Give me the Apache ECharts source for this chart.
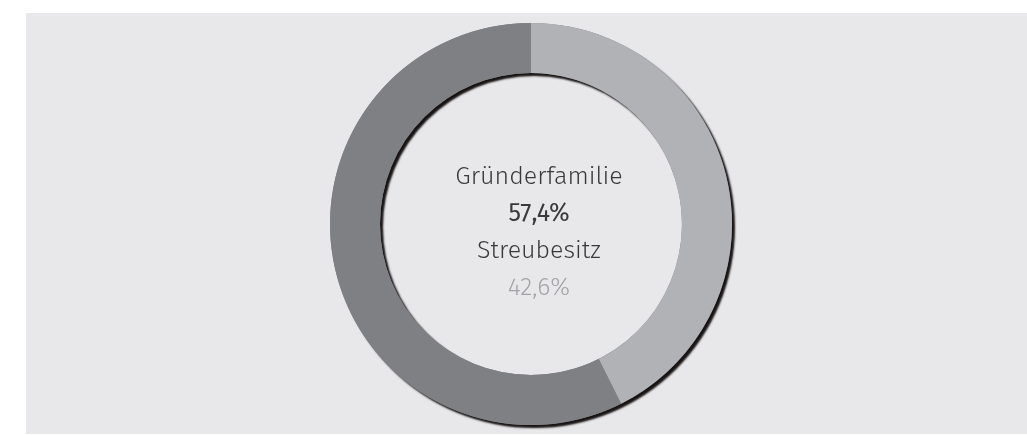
<!DOCTYPE html>
<html>
<head>
<meta charset="utf-8">
<script src="https://cdn.jsdelivr.net/npm/echarts@6/dist/echarts.min.js"></script>
<style>
  html, body { margin: 0; padding: 0; background: #ffffff; }
  #chart { width: 1027px; height: 435px; }
</style>
</head>
<body>
<div id="chart"></div>
<script>
    // owners, drawn clockwise from 12 o'clock
    const names = ['Streubesitz', 'Gründerfamilie'];
    const shares = [42.6, 57.4];
    const colors = ['#b1b2b5', '#7f8083'];
    const labelColors = ['#a3a4a7', '#3a3a3c'];

    function fmt(v) {
        return v.toFixed(1).replace('.', ',') + '%';
    }

    const chart = echarts.init(document.getElementById('chart'));
    const cx = 531;
    const cy = 224;
    const textX = 539;
    const font = '"Fira Sans", "Open Sans", sans-serif';

    // centre text: Gründerfamilie first, then Streubesitz
    const lines = [
        { text: names[1], color: '#3a3a3c', weight: 300, y: cy - 47 },
        { text: fmt(shares[1]), color: '#3a3a3c', weight: 400, y: cy - 10 },
        { text: names[0], color: '#3a3a3c', weight: 300, y: cy + 27 },
        { text: fmt(shares[0]), color: labelColors[0], weight: 300, y: cy + 64 }
    ];

    chart.setOption({
        animation: false,
        graphic: [
            {
                type: 'rect',
                z: -10,
                shape: { x: 26, y: 13, width: 1001, height: 421 },
                style: { fill: '#e8e8ea' }
            }
        ].concat(lines.map(l => ({
            type: 'text',
            z: 10,
            x: textX,
            y: l.y,
            style: {
                text: l.text,
                fill: l.color,
                font: l.weight + ' 25px ' + font,
                textAlign: 'center',
                textVerticalAlign: 'middle'
            }
        }))),
        series: [
            {
                // whole ring only casts the shadow, so no dark line shows between the slices
                type: 'pie',
                z: 1,
                center: [cx, cy],
                radius: [151, 201],
                silent: true,
                label: { show: false },
                labelLine: { show: false },
                itemStyle: {
                    color: '#7f8083',
                    shadowColor: 'rgba(25, 20, 20, 1)',
                    shadowBlur: 2,
                    shadowOffsetX: 3,
                    shadowOffsetY: 3
                },
                data: [{ name: 'ring', value: 1 }]
            },
            {
                type: 'pie',
                z: 2,
                center: [cx, cy],
                radius: [151, 201],
                startAngle: 90,
                clockwise: true,
                silent: true,
                label: { show: false },
                labelLine: { show: false },
                data: names.map((n, i) => ({
                    name: n,
                    value: shares[i],
                    itemStyle: { color: colors[i] }
                }))
            }
        ]
    });
</script>
</body>
</html>
